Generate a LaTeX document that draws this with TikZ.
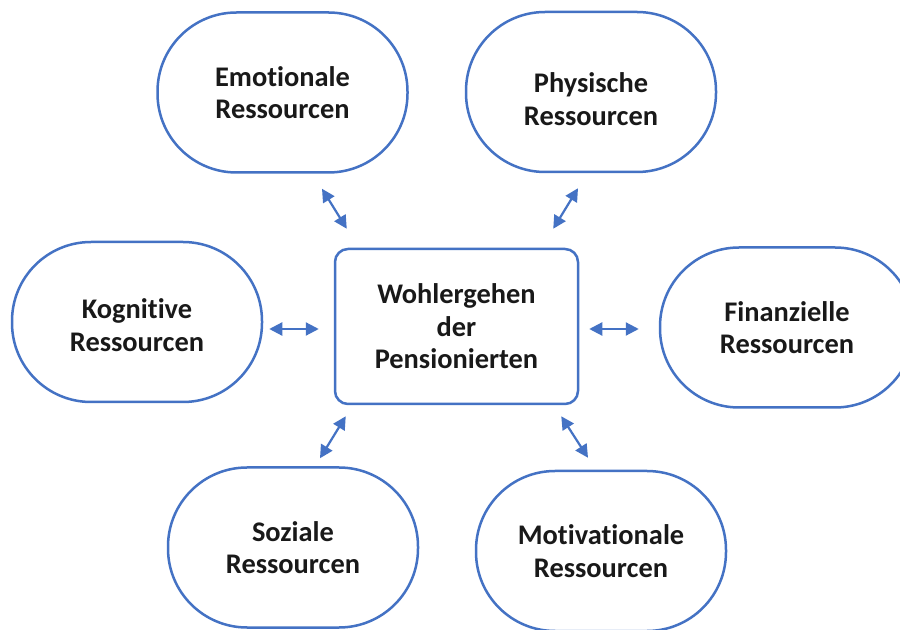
\documentclass[tikz,border=0pt]{standalone}
\usepackage{fontspec}
\setmainfont{Carlito}[Ligatures={NoCommon}]
\usetikzlibrary{arrows.meta}
\definecolor{obl}{HTML}{4472C4}
\tikzset{
  restext/.style={inner sep=0pt, align=center, font=\bfseries\fontsize{14.2}{16.3}\selectfont, text=black!90},
  res/.style={restext, draw=obl, line width=1.25pt, rectangle, rounded corners=39.5pt, minimum width=125pt, minimum height=80pt},
  mainbox/.style={restext, draw=obl, line width=1.25pt, rectangle, rounded corners=6.5pt, minimum width=121.5pt, minimum height=77.5pt},
  biarrow/.style={draw=obl, line width=1.1pt, {Triangle[length=6.5pt,width=6.5pt]}-{Triangle[length=6.5pt,width=6.5pt]}}
}
\begin{document}
\begin{tikzpicture}[x=0.5pt,y=-0.5pt]
\clip (0,0) rectangle (900,630);
\fill[white] (0,0) rectangle (900,630);
\node[mainbox] (box) at (456.5,326.5) {Wohlergehen\\der\\Pensionierten};
\node[res] (emo) at (282.5,92.5) {Emotionale\\Ressourcen};
\node[res] (phy) at (591,92) {};
\node[restext] (phytext) at ([shift={(0,7)}]phy.center) {Physische\\Ressourcen};
\node[res] (kog) at (137,322) {};
\node[restext] (kogtext) at ([shift={(0,3)}]kog.center) {Kognitive\\Ressourcen};
\node[res, minimum width=127pt] (fin) at (787,327.5) {Finanzielle\\Ressourcen};
\node[res] (soz) at (293,547.5) {Soziale\\Ressourcen};
\node[res] (mot) at (601,551) {Motivationale\\Ressourcen};
\draw[biarrow] ([shift={(39.5,15)}]emo.south) -- ([shift={(13,-19)}]box.north west);
\draw[biarrow] ([shift={(-13,15)}]phy.south) -- ([shift={(-26,-19)}]box.north east);
\draw[biarrow] ([shift={(6,7)}]kog.east) -- ([shift={(-15,2.5)}]box.west);
\draw[biarrow] ([shift={(10,2.5)}]box.east) -- ([shift={(-20,1.5)}]fin.west);
\draw[biarrow] ([shift={(12,11)}]box.south west) -- ([shift={(27,-8)}]soz.north);
\draw[biarrow] ([shift={(-18,11)}]box.south east) -- ([shift={(-13,-12)}]mot.north);
\end{tikzpicture}
\end{document}
